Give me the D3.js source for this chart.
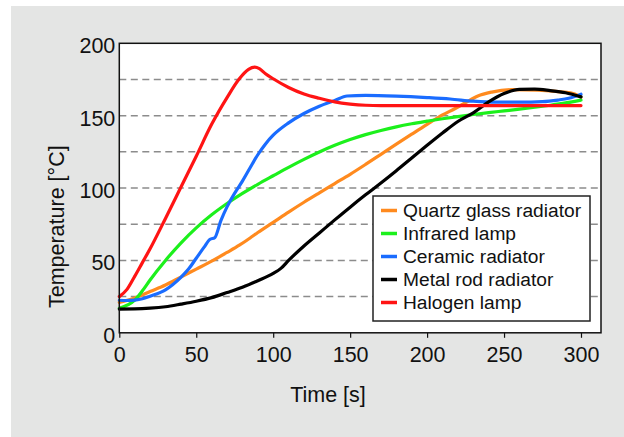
<!DOCTYPE html>
<html>
<head>
<meta charset="utf-8">
<script src="https://cdn.jsdelivr.net/npm/d3@7"></script>
<style>
  html, body { margin: 0; padding: 0; background: #fff; }
  svg { display: block; font-family: "Liberation Sans", Arial, Helvetica, sans-serif; }
</style>
</head>
<body>
<div id="chart"></div>
<script>
// time [s], temperature [°C]
var quartz = [[0,21],[10,24],[20,28.5],[30,33],[40,38.5],[50,44],[60,49.5],[70,55.5],[78,60.5],[85,65.5],[90,69.3],[100,76.3],[110,83.4],[120,90.2],[130,96.7],[140,103.1],[150,109.5],[160,116.3],[170,123.3],[180,130.3],[190,137.2],[200,144],[210,150.5],[218,154.8],[225,159],[233,163.6],[242,166.3],[255,168],[272,167.7],[287,166.5],[296,165],[300,162.8]];
var infrared = [[0,17],[10,22.5],[15,29],[20,36.5],[30,50],[40,62],[50,72.5],[60,81.5],[70,89.3],[80,96.3],[90,102.6],[100,108.5],[110,114.3],[120,119.8],[130,124.9],[140,129.5],[150,133.5],[160,136.9],[170,139.8],[180,142.3],[190,144.4],[200,146.2],[210,147.9],[220,149.4],[230,150.8],[240,152.1],[250,153.3],[260,154.5],[270,155.8],[280,157.2],[290,158.8],[300,160.8]];
var ceramic = [[0,22.5],[5,22.3],[10,22.6],[15,23.5],[20,25.3],[30,29.7],[40,38.3],[45,44],[50,51.5],[55,59],[59,64.6],[62,65.7],[66,77.5],[70,87],[75,96.5],[80,104.8],[85,114],[90,123],[95,130.5],[100,136.5],[110,145],[120,151.5],[130,156.5],[140,160.5],[148,163.6],[160,164],[180,163.5],[200,162.5],[215,161.5],[230,160],[245,159.3],[260,159.3],[275,159.7],[285,160.8],[292,162],[300,164.8]];
var metalRod = [[0,16.4],[10,16.5],[20,17],[30,18],[40,19.8],[50,21.8],[60,24.3],[70,27.8],[80,31.5],[90,36],[100,41],[105,44.5],[110,50],[120,60],[130,69],[140,78],[150,86.8],[160,95.3],[170,103.5],[180,112],[190,120.8],[200,129.5],[210,138],[220,146],[230,152],[240,159.5],[250,165.3],[260,168.2],[270,168.3],[280,167.3],[290,165.8],[300,163]];
var halogen = [[0,25],[5,30],[10,39],[15,48.5],[20,58],[30,79],[40,100.5],[50,122],[60,144],[70,162.5],[78,175.5],[84,182],[88,183.5],[91,182.5],[95,179],[100,175.5],[110,169.5],[120,165],[130,162],[140,159.5],[150,158],[160,157.2],[170,157],[200,157],[250,157],[300,157]];

var seriesNames = ["Quartz glass radiator", "Infrared lamp", "Ceramic radiator", "Metal rod radiator", "Halogen lamp"];
var seriesColors = ["#ff8a1e", "#1cf01c", "#1a6cff", "#000000", "#ff1414"];
var seriesData = [quartz, infrared, ceramic, metalRod, halogen];

var xTicks = [0, 50, 100, 150, 200, 250, 300];
var yTicks = [0, 50, 100, 150, 200];
var gridValues = [25, 50, 75, 100, 125, 150, 175];

(function () {
    var W = 624, H = 437;
    var pLeft = 119.3, pRight = 601, pTop = 43.3, pBottom = 332.8;

    var svg = d3.select("#chart").append("svg")
        .attr("width", W)
        .attr("height", H);

    // grey backdrop
    svg.append("rect")
        .attr("x", 11).attr("y", 6)
        .attr("width", W - 11).attr("height", H - 6)
        .attr("fill", "#e4e5e4");

    var x = d3.scaleLinear().domain([0, 313]).range([pLeft, pRight]);
    var y = d3.scaleLinear().domain([0, 200]).range([pBottom, pTop]);

    svg.append("rect")
        .attr("x", pLeft).attr("y", pTop)
        .attr("width", pRight - pLeft).attr("height", pBottom - pTop)
        .attr("fill", "#fff");

    // dashed grid
    svg.append("g").selectAll("line").data(gridValues).enter().append("line")
        .attr("x1", pLeft).attr("x2", pRight)
        .attr("y1", function (d) { return y(d); })
        .attr("y2", function (d) { return y(d); })
        .attr("stroke", "#8c8c8c")
        .attr("stroke-width", 1.5)
        .attr("stroke-dasharray", "7,4.5");

    var line = d3.line()
        .x(function (d) { return x(d[0]); })
        .y(function (d) { return y(d[1]); })
        .curve(d3.curveMonotoneX);

    var lines = svg.append("g").attr("fill", "none");
    seriesData.forEach(function (s, i) {
        lines.append("path")
            .attr("d", line(s))
            .attr("stroke", seriesColors[i])
            .attr("stroke-width", 3.2)
            .attr("stroke-linejoin", "round")
            .attr("stroke-linecap", "round");
    });

    // frame
    svg.append("rect")
        .attr("x", pLeft).attr("y", pTop)
        .attr("width", pRight - pLeft).attr("height", pBottom - pTop)
        .attr("fill", "none")
        .attr("stroke", "#111")
        .attr("stroke-width", 1.5);

    // axes
    var xAxis = svg.append("g")
        .attr("transform", "translate(0," + pBottom + ")")
        .call(d3.axisBottom(x).tickValues(xTicks).tickSize(5).tickPadding(9).tickSizeOuter(0));
    xAxis.select(".domain").remove();
    xAxis.selectAll("line").attr("stroke", "#111").attr("stroke-width", 1.2);
    xAxis.selectAll("text").attr("font-size", 21.5).attr("fill", "#111")
        .attr("font-family", "'Liberation Sans', Arial, sans-serif");

    var yAxis = svg.append("g")
        .attr("transform", "translate(" + pLeft + ",0)")
        .call(d3.axisLeft(y).tickValues(yTicks).tickSize(0).tickPadding(4));
    yAxis.select(".domain").remove();
    yAxis.selectAll("text").attr("font-size", 21.5).attr("fill", "#111")
        .attr("dy", "0.44em")
        .attr("font-family", "'Liberation Sans', Arial, sans-serif");

    svg.append("text")
        .attr("x", 328).attr("y", 401.5)
        .attr("text-anchor", "middle")
        .attr("font-size", 21.5)
        .attr("fill", "#111")
        .text("Time [s]");

    svg.append("text")
        .attr("transform", "translate(64,226.7) rotate(-90)")
        .attr("text-anchor", "middle")
        .attr("font-size", 21.5)
        .attr("fill", "#111")
        .text("Temperature [°C]");

    // legend
    var legend = svg.append("g");
    legend.append("rect")
        .attr("x", 373).attr("y", 196)
        .attr("width", 217).attr("height", 125)
        .attr("fill", "#fff")
        .attr("stroke", "#222")
        .attr("stroke-width", 1.5);

    var rows = legend.selectAll("g.row").data(seriesNames).enter().append("g")
        .attr("class", "row")
        .attr("transform", function (d, i) { return "translate(0," + (210.5 + i * 23) + ")"; });
    rows.append("line")
        .attr("x1", 381).attr("x2", 397)
        .attr("stroke", function (d, i) { return seriesColors[i]; })
        .attr("stroke-width", 3.5);
    rows.append("text")
        .attr("x", 403)
        .attr("dy", "0.36em")
        .attr("font-size", 19.2)
        .attr("fill", "#111")
        .text(function (d) { return d; });
})();
</script>
</body>
</html>
